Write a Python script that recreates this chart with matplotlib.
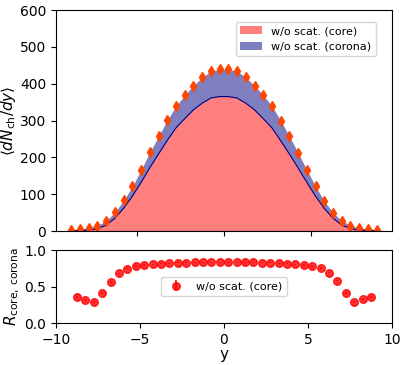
import numpy as np
import matplotlib
matplotlib.use('Agg')
import matplotlib.pyplot as plt

# rapidity bins
y = np.arange(-8.75, 8.76, 0.5)

# total dN/dy (markers)
total = [3, 5, 9, 15, 28, 51, 83, 121, 166, 214, 257, 301, 339, 369, 395, 417, 434, 439,
         439, 434, 417, 395, 369, 339, 300, 257, 212, 166, 121, 81, 50, 28, 15, 9, 5, 3]
total_err = [2, 2, 2, 2, 3, 3, 4, 4, 4, 5, 5, 5, 5, 5, 5, 6, 6, 6,
             6, 6, 6, 5, 5, 5, 5, 5, 5, 4, 4, 4, 3, 3, 2, 2, 2, 2]

# ratio core / total
ratio = [0.355, 0.314, 0.291, 0.409, 0.564, 0.682, 0.745, 0.782, 0.795, 0.805, 0.814, 0.818,
         0.827, 0.827, 0.832, 0.832, 0.832, 0.832, 0.832, 0.832, 0.832, 0.832, 0.827, 0.827,
         0.818, 0.814, 0.805, 0.795, 0.782, 0.755, 0.690, 0.582, 0.409, 0.291, 0.327, 0.355]
ratio_err = [0.01] * 36

# core dN/dy
core = [1.1, 1.6, 2.6, 6.1, 15.8, 34.8, 61.8, 94.6, 132, 172, 209, 246,
        280, 305, 329, 347, 361, 365, 365, 361, 347, 329, 305, 280,
        245, 209, 171, 132, 94.6, 61.2, 34.5, 16.3, 6.1, 2.6, 1.6, 1.1]

fig = plt.figure(figsize=(4.07, 3.65), dpi=100)
ax1 = fig.add_axes([0.1376, 0.367, 0.8254, 0.6056])
ax2 = fig.add_axes([0.1376, 0.115, 0.8254, 0.2])

ax1.fill_between(y, 0, core, color='red', alpha=0.5, lw=0, label='w/o scat. (core)')
ax1.fill_between(y, core, total, color='navy', alpha=0.5, lw=0, label='w/o scat. (corona)')
ax1.plot(y, core, color='navy', lw=0.8)
ax1.errorbar(y, total, yerr=total_err, fmt='d', color='orangered', markersize=5, elinewidth=1.2)
ax1.set_ylim(0, 600)
ax1.set_ylabel(r'$\langle dN_{\rm ch}/dy\rangle$', fontsize=11, labelpad=1.2)
ax1.set_xticks([-5, 0, 5])
ax1.set_xticklabels([])
ax1.tick_params(labelsize=10)
ax1.legend(loc='upper right', bbox_to_anchor=(0.952, 0.947), borderaxespad=0, fontsize=8)

ax2.errorbar(y, ratio, yerr=ratio_err, fmt='o', color='red', alpha=0.8, markersize=5.5,
             label='w/o scat. (core)')
ax2.set_xlim(-10, 10)
ax2.set_ylim(0, 1)
ax2.set_xticks([-10, -5, 0, 5, 10])
ax2.set_yticks([0, 0.5, 1.0])
ax2.set_xlabel('y', fontsize=11, labelpad=0.5)
ax2.set_ylabel(r'$R_{\rm core,\,corona}$', fontsize=11, labelpad=2)
ax2.tick_params(labelsize=10)
ax2.legend(loc='center', fontsize=8)

fig.savefig('out.png', dpi=100)
